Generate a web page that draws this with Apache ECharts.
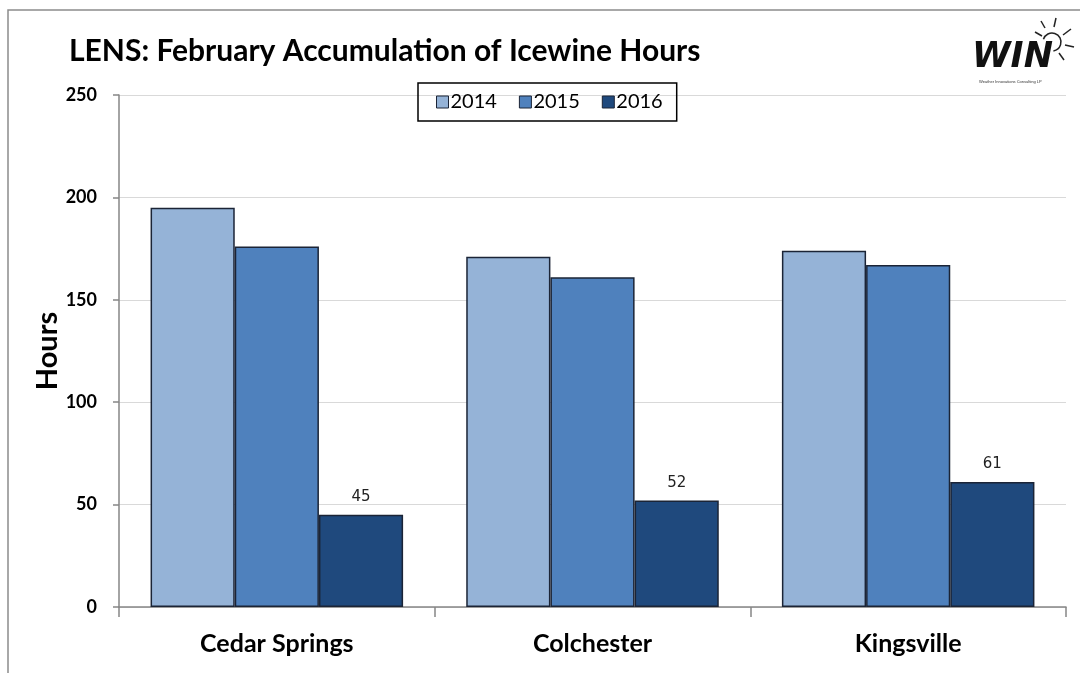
<!DOCTYPE html>
<html>
<head>
<meta charset="utf-8">
<script src="https://cdn.jsdelivr.net/npm/echarts@6/dist/echarts.min.js"></script>
<style>
  html, body { margin: 0; padding: 0; background: #fff; }
  #chart { width: 1080px; height: 673px; }
</style>
</head>
<body>
<div id="chart"></div>
<script>
// sites and yearly icewine hours
const sites = ['Cedar Springs', 'Colchester', 'Kingsville'];
const years = ['2014', '2015', '2016'];
const hours2014 = [195, 171, 174];
const hours2015 = [176, 161, 167];
const hours2016 = [45, 52, 61];
const yTicks = [0, 50, 100, 150, 200, 250];

const colors = ['#95b3d7', '#4f81bd', '#1f497d'];
const values = [hours2014, hours2015, hours2016];

const chart = echarts.init(document.getElementById('chart'));

const series = years.map((y, i) => ({
    name: y,
    type: 'bar',
    data: values[i],
    barGap: '0%',
    barCategoryGap: '20%',
    itemStyle: {
        color: colors[i],
        borderColor: '#1b2436',
        borderWidth: 1.5
    },
    label: {
        show: i === 2,
        position: 'top',
        distance: 10,
        color: '#222',
        fontFamily: 'DejaVu Sans',
        fontSize: 15
    }
}));

const option = {
    backgroundColor: '#fff',
    animation: false,
    title: {
        text: 'LENS: February Accumulation of Icewine Hours',
        left: 64,
        top: 31,
        textStyle: {
            fontFamily: 'Lato',
            fontWeight: 'bold',
            fontSize: 30,
            color: '#000'
        }
    },
    legend: {
        data: years,
        top: 83,
        left: 418,
        width: 264,
        padding: [9, 14, 9, 18],
        borderColor: '#000',
        borderWidth: 1.5,
        itemWidth: 12,
        itemHeight: 12,
        itemGap: 22,
        icon: 'rect',
        itemStyle: { borderColor: '#1b2436', borderWidth: 1 },
        textStyle: {
            fontFamily: 'Lato',
            fontSize: 20,
            color: '#000',
            padding: [0, 0, 0, -3]
        }
    },
    grid: {
        left: 119,
        right: 14,
        top: 95,
        bottom: 66,
        containLabel: false
    },
    xAxis: {
        type: 'category',
        data: sites,
        axisLine: { lineStyle: { color: '#868686', width: 1.5 } },
        axisTick: { show: true, length: 10, lineStyle: { color: '#868686', width: 1.5 } },
        axisLabel: {
            margin: 24,
            fontFamily: 'Lato',
            fontWeight: 'bold',
            fontSize: 25,
            color: '#000'
        }
    },
    yAxis: {
        type: 'value',
        min: 0,
        max: 250,
        interval: 50,
        name: 'Hours',
        nameLocation: 'middle',
        nameGap: 57,
        nameMoveOverlap: false,
        nameTextStyle: {
            fontFamily: 'Lato',
            fontWeight: 'bold',
            fontSize: 29,
            color: '#000'
        },
        axisLine: { show: true, lineStyle: { color: '#868686', width: 1.5 } },
        axisTick: { show: true, length: 6, lineStyle: { color: '#868686', width: 1.5 } },
        axisLabel: {
            margin: 22,
            fontFamily: 'Lato',
            fontWeight: 'bold',
            fontSize: 18,
            color: '#000',
            formatter: v => (yTicks.indexOf(v) >= 0 ? String(v) : '')
        },
        splitLine: { lineStyle: { color: '#d9d9d9', width: 1.2 } }
    },
    graphic: [
        {
            // chart frame
            type: 'rect',
            shape: { x: 8, y: 10, width: 1090, height: 680 },
            style: { fill: 'none', stroke: '#8c8c8c', lineWidth: 1.5 },
            silent: true
        },
        {
            type: 'text',
            left: 972,
            top: 40,
            style: {
                text: 'WIN',
                fontFamily: 'DejaVu Sans',
                fontWeight: 'bold',
                fontStyle: 'italic',
                fontSize: 35,
                fill: '#111'
            }
        },
        {
            type: 'text',
            left: 979,
            top: 80,
            style: {
                text: 'Weather Innovations Consulting LP',
                fontFamily: 'Liberation Sans',
                fontSize: 4,
                fill: '#333'
            }
        },
        {
            type: 'arc',
            shape: { cx: 1052, cy: 42, r: 9, startAngle: -Math.PI * 0.9, endAngle: Math.PI * 0.45 },
            style: { stroke: '#222', fill: 'none', lineWidth: 1.5 }
        },
        { type: 'line', shape: { x1: 1041, y1: 21, x2: 1045, y2: 28 }, style: { stroke: '#222', lineWidth: 1.5 } },
        { type: 'line', shape: { x1: 1056, y1: 18, x2: 1054, y2: 27 }, style: { stroke: '#222', lineWidth: 1.5 } },
        { type: 'line', shape: { x1: 1071, y1: 29, x2: 1063, y2: 35 }, style: { stroke: '#222', lineWidth: 1.5 } },
        { type: 'line', shape: { x1: 1074, y1: 47, x2: 1065, y2: 45 }, style: { stroke: '#222', lineWidth: 1.5 } },
        { type: 'line', shape: { x1: 1064, y1: 60, x2: 1059, y2: 53 }, style: { stroke: '#222', lineWidth: 1.5 } },
        { type: 'line', shape: { x1: 1035, y1: 32, x2: 1042, y2: 36 }, style: { stroke: '#222', lineWidth: 1.5 } }
    ],
    series: series
};

chart.setOption(option);
</script>
</body>
</html>
